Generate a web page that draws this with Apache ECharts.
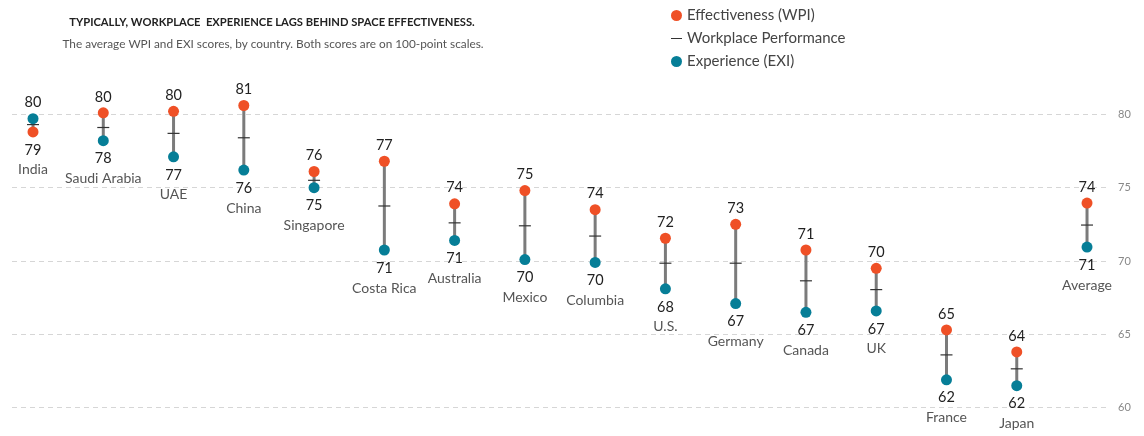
<!DOCTYPE html>
<html>
<head>
<meta charset="utf-8">
<script src="https://cdn.jsdelivr.net/npm/echarts@6/dist/echarts.min.js"></script>
<style>
html,body{margin:0;padding:0;background:#fff;}
#chart{width:1144px;height:436px;}
</style>
</head>
<body>
<div id="chart"></div>
<script>
var countries = ['India','Saudi Arabia','UAE','China','Singapore','Costa Rica','Australia','Mexico','Columbia','U.S.','Germany','Canada','UK','France','Japan','Average'];
var wpi = [78.8, 80.1, 80.2, 80.6, 76.1, 76.8, 73.9, 74.8, 73.5, 71.55, 72.5, 70.75, 69.5, 65.3, 63.8, 73.95];
var exi = [79.7, 78.2, 77.1, 76.2, 75.0, 70.75, 71.4, 70.1, 69.9, 68.1, 67.1, 66.5, 66.6, 61.9, 61.5, 70.95];
var wp  = [79.3, 79.1, 78.7, 78.4, 75.5, 73.75, 72.6, 72.4, 71.7, 69.85, 69.85, 68.65, 68.05, 63.6, 62.65, 72.45];
var yTicks = [60, 65, 70, 75, 80];

var FONT = 'Lato';
var C_WPI = '#EF5026';
var C_EXI = '#067E97';

function pointData(vals, other) {
  return vals.map(function (v, i) {
    var isTop = v >= other[i];
    var txt = isTop ? '{v|' + Math.round(v) + '}' : '{v|' + Math.round(v) + '}\n{n|' + countries[i] + '}';
    return {
      value: [i, v],
      label: {
        show: true,
        position: isTop ? 'top' : 'bottom',
        distance: isTop ? 1 : 3,
        formatter: txt
      }
    };
  });
}

var labelRich = {
  v: { fontSize: 14.5, lineHeight: 19, color: '#222', fontFamily: FONT },
  n: { fontSize: 14, lineHeight: 21, color: '#555', fontFamily: FONT }
};

var chart = echarts.init(document.getElementById('chart'));
chart.setOption({
  animation: false,
  title: [
    { text: 'TYPICALLY, WORKPLACE  EXPERIENCE LAGS BEHIND SPACE EFFECTIVENESS.', left: 267, top: 12, textAlign: 'center',
      textStyle: { fontFamily: FONT, fontWeight: 'bold', fontSize: 11.2, color: '#222' } },
    { text: 'The average WPI and EXI scores, by country. Both scores are on 100-point scales.', left: 268, top: 33, textAlign: 'center',
      textStyle: { fontFamily: FONT, fontWeight: 'normal', fontSize: 11.8, color: '#555' } }
  ],
  legend: {
    orient: 'vertical', left: 666, top: 3, itemGap: 8, itemWidth: 11, itemHeight: 11,
    textStyle: { fontFamily: FONT, fontSize: 15, color: '#444' },
    data: [
      { name: 'Effectiveness (WPI)', icon: 'circle' },
      { name: 'Workplace Performance', icon: 'path://M0,0H0.01V0.01H0Z M0,5.4H12V6.6H0Z M11.99,11.99H12V12H11.99Z' },
      { name: 'Experience (EXI)', icon: 'circle' }
    ]
  },
  grid: { left: 12, right: 34, top: 114.3, bottom: 28.3 },
  xAxis: { type: 'value', min: -0.299, max: 15.327, show: false },
  yAxis: {
    type: 'value', position: 'right', min: 60, max: 80, interval: 5,
    axisLine: { show: false }, axisTick: { show: false },
    axisLabel: { margin: 8, fontSize: 11, color: '#888', fontFamily: FONT,
      formatter: function (v) { return yTicks.indexOf(v) >= 0 ? String(v) : ''; } },
    splitLine: { show: true, lineStyle: { color: '#d6d6d6', type: [5, 4], width: 1 } }
  },
  series: [
    {
      type: 'custom', name: 'range', clip: false, silent: true, z: 1,
      data: countries.map(function (c, i) { return [i, wpi[i], exi[i]]; }),
      renderItem: function (params, api) {
        var x = api.value(0);
        var p1 = api.coord([x, api.value(1)]);
        var p2 = api.coord([x, api.value(2)]);
        return { type: 'line', shape: { x1: p1[0], y1: p1[1], x2: p2[0], y2: p2[1] },
          style: { stroke: '#7b7b7b', lineWidth: 3 } };
      }
    },
    {
      type: 'custom', name: 'Workplace Performance', clip: false, z: 2,
      itemStyle: { color: '#333' },
      data: countries.map(function (c, i) { return [i, wp[i]]; }),
      renderItem: function (params, api) {
        var p = api.coord([api.value(0), api.value(1)]);
        return { type: 'line', shape: { x1: p[0] - 6, y1: p[1], x2: p[0] + 6, y2: p[1] },
          style: { stroke: '#333', lineWidth: 1.2 } };
      }
    },
    {
      type: 'scatter', name: 'Effectiveness (WPI)', clip: false, z: 3,
      symbol: 'circle', symbolSize: 11, itemStyle: { color: C_WPI, opacity: 1 },
      label: { rich: labelRich },
      data: pointData(wpi, exi)
    },
    {
      type: 'scatter', name: 'Experience (EXI)', clip: false, z: 3,
      symbol: 'circle', symbolSize: 11, itemStyle: { color: C_EXI, opacity: 1 },
      label: { rich: labelRich },
      data: pointData(exi, wpi)
    }
  ]
});
</script>
</body>
</html>
